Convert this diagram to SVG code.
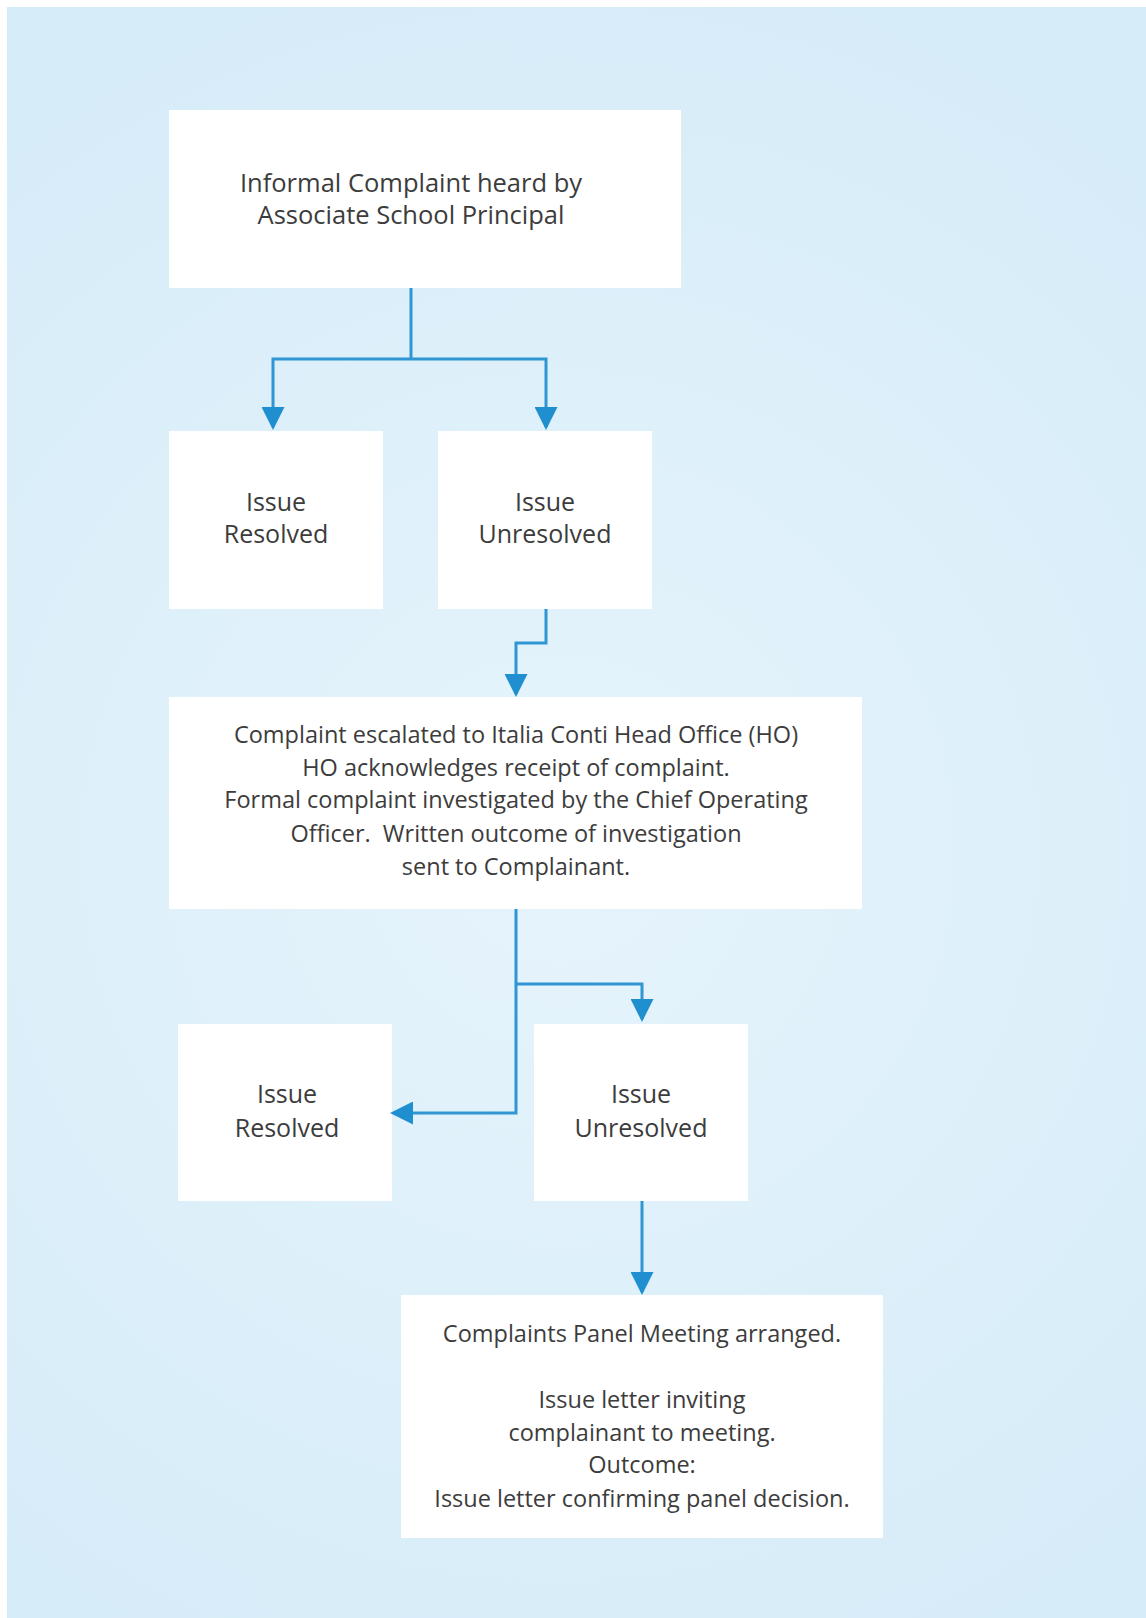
<svg xmlns="http://www.w3.org/2000/svg" width="1146" height="1618" viewBox="0 0 1146 1618">
  <defs>
    <radialGradient id="bg" cx="560" cy="850" r="900" gradientUnits="userSpaceOnUse">
      <stop offset="0" stop-color="#e6f4fc"/>
      <stop offset="1" stop-color="#d6ecf8"/>
    </radialGradient>
    <marker id="arrow" markerUnits="userSpaceOnUse" markerWidth="23" markerHeight="23" viewBox="0 0 23 23" refX="20" refY="11.5" orient="auto">
      <path d="M0,0 L23,11.5 L0,23 Z" fill="#1f8fd0"/>
    </marker>
  </defs>
  <style>
    .box { fill: #ffffff; }
    .t { font-family: "Open Sans", "Noto Sans", "Liberation Sans", sans-serif; fill: #3c3c3c; text-anchor: middle; }
    .top { font-size: 25.5px; }
    .big { font-size: 25px; }
    .mid { font-size: 23.5px; }
    .conn { fill: none; stroke: #2f96d3; stroke-width: 3; }
  </style>
  <rect x="0" y="0" width="1146" height="1618" fill="#ffffff"/>
  <rect x="7" y="7" width="1139" height="1611" fill="url(#bg)"/>

  <g id="node-informal">
    <rect class="box" x="169" y="110" width="512" height="178"/>
    <text class="t top" x="411" y="192">Informal Complaint heard by</text>
    <text class="t top" x="411" y="224">Associate School Principal</text>
  </g>

  <g id="node-resolved-1">
    <rect class="box" x="169" y="431" width="214" height="178"/>
    <text class="t big" x="276" y="511">Issue</text>
    <text class="t big" x="276" y="543">Resolved</text>
  </g>

  <g id="node-unresolved-1">
    <rect class="box" x="438" y="431" width="214" height="178"/>
    <text class="t big" x="545" y="511">Issue</text>
    <text class="t big" x="545" y="543">Unresolved</text>
  </g>

  <g id="node-escalated">
    <rect class="box" x="169" y="697" width="693" height="212"/>
    <text class="t mid" x="516" y="743">Complaint escalated to Italia Conti Head Office (HO)</text>
    <text class="t mid" x="516" y="776">HO acknowledges receipt of complaint.</text>
    <text class="t mid" x="516" y="808">Formal complaint investigated by the Chief Operating</text>
    <text class="t mid" x="516" y="842" xml:space="preserve">Officer.  Written outcome of investigation</text>
    <text class="t mid" x="516" y="875">sent to Complainant.</text>
  </g>

  <g id="node-resolved-2">
    <rect class="box" x="178" y="1024" width="214" height="177"/>
    <text class="t big" x="287" y="1103">Issue</text>
    <text class="t big" x="287" y="1137">Resolved</text>
  </g>

  <g id="node-unresolved-2">
    <rect class="box" x="534" y="1024" width="214" height="177"/>
    <text class="t big" x="641" y="1103">Issue</text>
    <text class="t big" x="641" y="1137">Unresolved</text>
  </g>

  <g id="node-panel">
    <rect class="box" x="401" y="1295" width="482" height="243"/>
    <text class="t mid" x="642" y="1342">Complaints Panel Meeting arranged.</text>
    <text class="t mid" x="642" y="1408">Issue letter inviting</text>
    <text class="t mid" x="642" y="1441">complainant to meeting.</text>
    <text class="t mid" x="642" y="1473">Outcome:</text>
    <text class="t mid" x="642" y="1507">Issue letter confirming panel decision.</text>
  </g>

  <g id="connectors">
    <path class="conn" d="M411,288 L411,359"/>
    <path class="conn" d="M411,359 L273,359 L273,427" marker-end="url(#arrow)"/>
    <path class="conn" d="M411,359 L546,359 L546,427" marker-end="url(#arrow)"/>
    <path class="conn" d="M546,609 L546,643 L516,643 L516,694" marker-end="url(#arrow)"/>
    <path class="conn" d="M516,909 L516,1113 L393,1113" marker-end="url(#arrow)"/>
    <path class="conn" d="M516,984 L642,984 L642,1019" marker-end="url(#arrow)"/>
    <path class="conn" d="M642,1201 L642,1292" marker-end="url(#arrow)"/>
  </g>
</svg>
